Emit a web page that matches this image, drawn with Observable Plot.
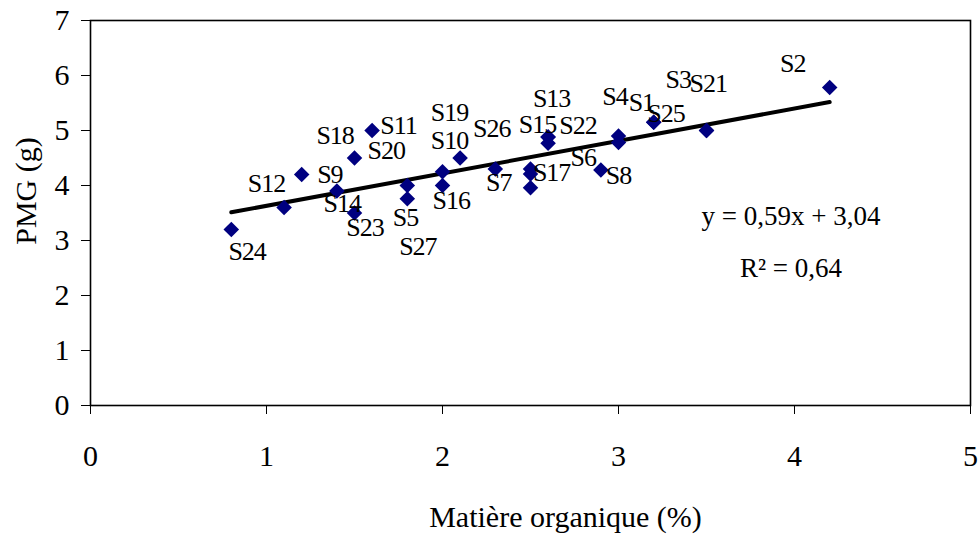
<!DOCTYPE html>
<html><head><meta charset="utf-8">
<script src="https://cdn.jsdelivr.net/npm/d3@7"></script>
<script src="https://cdn.jsdelivr.net/npm/@observablehq/plot@0.6"></script>
<style>
body{margin:0;background:#fff}
svg text{font-family:"Liberation Serif","Times New Roman",serif}
.ptlab text{letter-spacing:-1px}
</style>
</head><body><div id="chart"></div>
<script>
// Samples: matière organique (%) vs PMG (g)
const sampleNames = ["S1","S2","S3","S4","S5","S6","S7","S8","S9","S10","S11","S12","S13","S14","S15","S16","S17","S18","S19","S20","S21","S22","S23","S24","S25","S26","S27"];
const matiereOrganique = [3.2,4.2,3.5,3.0,1.8,3.0,2.3,2.9,1.2,2.0,1.6,1.1,2.6,1.4,2.6,2.0,2.5,2.5,2.1,1.5,3.5,2.6,1.5,0.8,3.2,2.5,1.8];
const pmg = [5.15,5.78,5.0,4.9,4.0,4.78,4.3,4.28,4.2,4.25,5.0,3.6,4.88,3.9,4.88,4.0,4.21,3.96,4.5,4.5,5.0,4.77,3.5,3.2,5.15,4.3,3.76];

// Label anchors (data units)
const labelNames = ["S1","S2","S3","S4","S5","S6","S7","S8","S9","S10","S11","S12","S13","S14","S15","S16","S17","S18","S19","S20","S21","S22","S23","S24","S25","S26","S27"];
const labelX = [3.13,3.99,3.34,2.98,1.79,2.80,2.32,3.00,1.36,2.04,1.75,1.00,2.62,1.43,2.54,2.05,2.62,1.39,2.04,1.68,3.51,2.77,1.56,0.89,3.27,2.28,1.86];
const labelY = [5.51,6.21,5.92,5.61,3.42,4.50,4.06,4.18,4.20,4.82,5.09,4.03,5.58,3.67,5.11,3.73,4.24,4.91,5.33,4.64,5.85,5.09,3.24,2.79,5.30,5.03,2.88];

const xTicks = [0,1,2,3,4,5];
const yTicks = [0,1,2,3,4,5,6,7];
const trendSlope = 0.59;
const trendIntercept = 3.04;
const equationText = "y = 0,59x + 3,04";
const r2Text = "R² = 0,64";
const xTitle = "Matière organique (%)";
const yTitle = "PMG (g)";

const points = sampleNames.map((n,i)=>({name:n, x:matiereOrganique[i], y:pmg[i]}));
const labels = labelNames.map((n,i)=>({name:n, x:labelX[i], y:labelY[i]}));
const [xmin,xmax] = d3.extent(matiereOrganique);
const trend = [xmin,xmax].map(x=>({x, y: trendSlope*x + trendIntercept}));

const chart = Plot.plot({
  width: 978, height: 536,
  marginTop: 20, marginLeft: 90, marginRight: 8, marginBottom: 131,
  style: {background:"#fff", fontSize:"30px", fontFamily:"Liberation Serif, serif", color:"#000", overflow:"visible"},
  x: {domain:[0,5], ticks:xTicks, tickFormat:d3.format("d"), tickSize:9, tickPadding:30, label:null},
  y: {domain:[0,7], ticks:yTicks, tickFormat:d3.format("d"), tickSize:9, tickPadding:12, label:null},
  marks: [
    Plot.frame({stroke:"#000", strokeWidth:1.6}),
    Plot.line(trend, {x:"x", y:"y", stroke:"#000", strokeWidth:4}),
    Plot.dot(points, {x:"x", y:"y", symbol:"diamond2", r:7, fill:"#000080", stroke:"none"}),
    Plot.text(labels, {x:"x", y:"y", text:"name", fontSize:26, fill:"#000", textAnchor:"middle", lineAnchor:"middle", className:"ptlab"}),
    Plot.text([equationText], {x:3.98, y:3.44, text:d=>d, fontSize:27, textAnchor:"middle", lineAnchor:"middle"}),
    Plot.text([r2Text], {x:3.98, y:2.49, text:d=>d, fontSize:27, textAnchor:"middle", lineAnchor:"middle"}),
    Plot.text([xTitle], {frameAnchor:"bottom", text:d=>d, dx:35, dy:112, fontSize:30, textAnchor:"middle", lineAnchor:"middle"}),
    Plot.text([yTitle], {frameAnchor:"left", text:d=>d, dx:-64, dy:-22, rotate:-90, fontSize:30, textAnchor:"middle", lineAnchor:"middle"})
  ]
});
document.getElementById("chart").appendChild(chart);
</script>
</body></html>
